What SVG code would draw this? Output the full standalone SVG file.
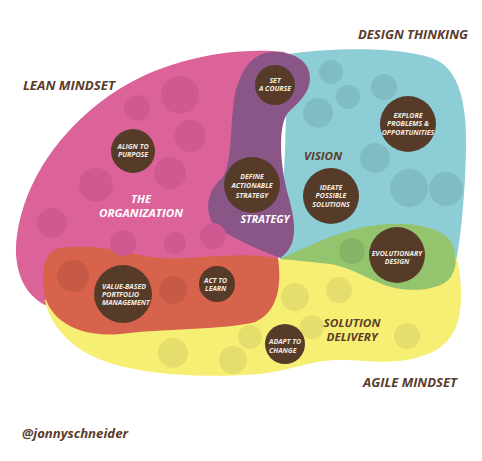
<svg xmlns="http://www.w3.org/2000/svg" width="482" height="461" viewBox="0 0 482 461">
<style>
.head{font-family:"Open Sans","Liberation Sans",sans-serif;font-weight:700;font-style:italic;fill:#5b3c2b;font-size:13px}
.area{font-family:"Open Sans","Liberation Sans",sans-serif;font-weight:700;font-style:italic;font-size:11px;text-anchor:middle}
.w{fill:#ffffff}
.b{fill:#5b3c2b}
.node circle{fill:#553b28}
.node text{font-family:"Open Sans","Liberation Sans",sans-serif;font-weight:700;font-style:italic;font-size:7px;fill:#f4ece4;text-anchor:middle}
.node text.l{text-anchor:start}
.dp{fill:#cf5a92}
.db{fill:#80bcc6}
.dg{fill:#86b466}
.dy{fill:#e6de6c}
.do{fill:#c65a47}
</style>
<rect width="482" height="461" fill="#ffffff"/>
<g id="regions">
<path id="lean" d="M 285,52 C 230,46 160,60 110,95 C 60,130 25,180 17,235 C 12,270 25,295 45,305 L 120,300 L 278,258 L 270,180 L 265,110 Z" fill="#dc6399"/>
<path id="design" d="M 288,54 C 330,48 395,46 432,58 C 460,68 467,105 466,150 C 465,190 462,230 456,262 L 380,275 L 280,259 L 285,150 Z" fill="#8dcdd5"/>
<path id="agile" d="M 45,300 C 50,325 70,350 110,363 C 150,376 210,378 260,374 C 290,371 310,360 340,360 C 370,360 395,366 425,355 C 455,345 462,320 461,290 C 460,270 458,258 452,248 L 280,259 L 150,285 Z" fill="#f6ef73"/>
<path id="evolution" d="M 280,259 C 300,250 320,240 345,232 C 380,220 430,220 448,238 C 458,250 458,268 450,278 C 440,290 415,292 395,288 C 370,282 355,268 330,264 C 310,262 295,260 280,259 Z" fill="#94c46d"/>
<path id="value" d="M 60,248 C 90,244 120,250 150,257 C 190,262 230,250 278,258 C 282,285 278,312 255,322 C 225,330 170,328 120,334 C 75,338 45,318 43,285 C 42,262 48,250 60,248 Z" fill="#d7634c"/>
<path id="strategy" d="M 272,52 C 295,51 310,62 310,78 C 310,95 295,105 287,114 C 278,128 280,165 288,195 C 295,220 300,245 280,258 C 265,252 235,240 215,226 C 205,215 205,192 222,178 C 232,165 230,130 234,100 C 238,75 250,53 272,52 Z" fill="#8a5587"/>
</g>
<g id="dots">
<circle class="dp" cx="180" cy="95" r="19"/>
<circle class="dp" cx="137" cy="108" r="13"/>
<circle class="dp" cx="190" cy="136" r="16"/>
<circle class="dp" cx="170" cy="173" r="16"/>
<circle class="dp" cx="96" cy="185" r="17"/>
<circle class="dp" cx="52" cy="223" r="15"/>
<circle class="dp" cx="123" cy="243" r="13"/>
<circle class="dp" cx="175" cy="243" r="11"/>
<circle class="dp" cx="213" cy="236" r="13"/>
<circle class="db" cx="331" cy="72" r="12"/>
<circle class="db" cx="348" cy="97" r="12"/>
<circle class="db" cx="318" cy="113" r="15"/>
<circle class="db" cx="384" cy="87" r="13"/>
<circle class="db" cx="375" cy="158" r="15"/>
<circle class="db" cx="409" cy="188" r="19"/>
<circle class="db" cx="446" cy="189" r="17"/>
<circle class="dg" cx="352" cy="251" r="13"/>
<circle class="do" cx="73" cy="276" r="16"/>
<circle class="do" cx="173" cy="290" r="14"/>
<circle class="dy" cx="295" cy="297" r="14"/>
<circle class="dy" cx="339" cy="290" r="13"/>
<circle class="dy" cx="312" cy="327" r="12"/>
<circle class="dy" cx="250" cy="337" r="12"/>
<circle class="dy" cx="407" cy="336" r="13"/>
<circle class="dy" cx="173" cy="353" r="15"/>
<circle class="dy" cx="233" cy="360" r="14"/>
</g>
<g id="labels">
<text class="head" x="358" y="39" textLength="110" lengthAdjust="spacingAndGlyphs">DESIGN THINKING</text>
<text class="head" x="23" y="90" textLength="92" lengthAdjust="spacingAndGlyphs">LEAN MINDSET</text>
<text class="head" x="363" y="387" textLength="94" lengthAdjust="spacingAndGlyphs">AGILE MINDSET</text>
<text class="head" x="22" y="438" textLength="106" lengthAdjust="spacingAndGlyphs">@jonnyschneider</text>
<text class="area w" x="141" y="203" textLength="20" lengthAdjust="spacingAndGlyphs">THE</text>
<text class="area w" x="141" y="217" textLength="84" lengthAdjust="spacingAndGlyphs">ORGANIZATION</text>
<text class="area w" x="265" y="223" textLength="49" lengthAdjust="spacingAndGlyphs">STRATEGY</text>
<text class="area b" x="323" y="160" textLength="38" lengthAdjust="spacingAndGlyphs">VISION</text>
<text class="area b" x="352" y="327" textLength="57" lengthAdjust="spacingAndGlyphs">SOLUTION</text>
<text class="area b" x="352" y="341" textLength="51" lengthAdjust="spacingAndGlyphs">DELIVERY</text>
</g>
<g id="connectors"/>
<g id="set-a-course" class="node"><circle cx="275" cy="85" r="20"/><text x="275" y="83">SET</text><text x="275" y="91">A COURSE</text></g>
<g id="align-to-purpose" class="node"><circle cx="133" cy="151" r="22"/><text x="133" y="149">ALIGN TO</text><text x="133" y="157">PURPOSE</text></g>
<g id="explore" class="node"><circle cx="408" cy="124" r="28"/><text x="408" y="118">EXPLORE</text><text x="408" y="126">PROBLEMS &amp;</text><text x="408" y="135">OPPORTUNITIES</text></g>
<g id="define-strategy" class="node"><circle cx="252" cy="185" r="28"/><text x="252" y="179">DEFINE</text><text x="252" y="188">ACTIONABLE</text><text x="252" y="198">STRATEGY</text></g>
<g id="ideate" class="node"><circle cx="331" cy="196" r="28"/><text x="331" y="190">IDEATE</text><text x="331" y="198">POSSIBLE</text><text x="331" y="207">SOLUTIONS</text></g>
<g id="evolutionary-design" class="node"><circle cx="397" cy="255" r="28"/><text x="397" y="256">EVOLUTIONARY</text><text x="397" y="264">DESIGN</text></g>
<g id="value-based" class="node"><circle cx="123" cy="294" r="29"/><text class="l" x="102" y="289">VALUE-BASED</text><text class="l" x="102" y="297">PORTFOLIO</text><text class="l" x="102" y="305">MANAGEMENT</text></g>
<g id="act-to-learn" class="node"><circle cx="217" cy="284" r="18"/><text class="l" x="204" y="283">ACT TO</text><text class="l" x="205" y="291">LEARN</text></g>
<g id="adapt-to-change" class="node"><circle cx="285" cy="344" r="20"/><text class="l" x="269" y="344">ADAPT TO</text><text class="l" x="269" y="353">CHANGE</text></g>
</svg>
